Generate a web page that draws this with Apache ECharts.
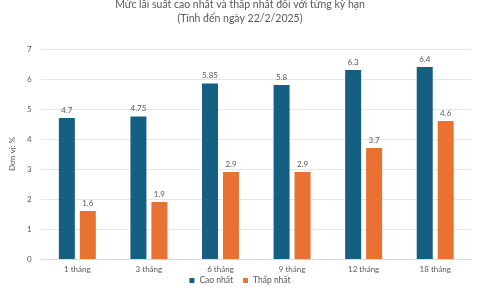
<!DOCTYPE html>
<html><head><meta charset="utf-8">
<script src="https://cdn.jsdelivr.net/npm/echarts@6/dist/echarts.min.js"></script>
<style>html,body{margin:0;padding:0;background:#fff}#c{width:480px;height:288px}</style>
</head><body><div id="c"></div>
<script>
const categories = ['1 tháng','3 tháng','6 tháng','9 tháng','12 tháng','18 tháng'];
const caoNhat = [4.7, 4.75, 5.85, 5.8, 6.3, 6.4];
const thapNhat = [1.6, 1.9, 2.9, 2.9, 3.7, 4.6];
const seriesNames = ['Cao nhất','Thấp nhất'];
const yTicks = [0,1,2,3,4,5,6,7];

const chart = echarts.init(document.getElementById('c'));
const font = 'Lato, "Open Sans", sans-serif';
chart.setOption({
  animation:false,
  backgroundColor:'#fff',
  title:{
    text:'Mức lãi suất cao nhất và thấp nhất đối với từng kỳ hạn\n(Tính đến ngày 22/2/2025)',
    left:'center', top:-2, padding:0,
    textStyle:{fontSize:10.5, fontWeight:'normal', color:'#595959', fontFamily:font, lineHeight:14}
  },
  legend:{
    data:seriesNames, bottom:-2, left:'center', itemWidth:5, itemHeight:5, itemGap:10,
    icon:'rect',
    textStyle:{fontSize:8.5, color:'#595959', fontFamily:font}
  },
  grid:{left:34, right:9, top:49, bottom:29, containLabel:false},
  xAxis:{
    type:'category', data:categories,
    axisLine:{lineStyle:{color:'#d9d9d9'}}, axisTick:{show:false},
    axisLabel:{fontSize:8, color:'#595959', fontFamily:font, margin:6}
  },
  yAxis:{
    type:'value', min:yTicks[0], max:yTicks[yTicks.length-1], interval:1,
    name:'Đơn vị: %', nameLocation:'middle', nameGap:17,
    nameTextStyle:{fontSize:8, color:'#595959', fontFamily:font},
    axisLine:{show:false}, axisTick:{show:false},
    axisLabel:{fontSize:8, color:'#595959', fontFamily:font, margin:10},
    splitLine:{lineStyle:{color:'#e6e6e6'}}
  },
  series:[
    {name:seriesNames[0], type:'bar', data:caoNhat, barWidth:16, barGap:'31%',
     itemStyle:{color:'#156082'},
     label:{show:true, position:'top', fontSize:8, color:'#595959', fontFamily:font, distance:4}},
    {name:seriesNames[1], type:'bar', data:thapNhat, barWidth:16,
     itemStyle:{color:'#E97132'},
     label:{show:true, position:'top', fontSize:8, color:'#595959', fontFamily:font, distance:4}}
  ]
});
</script></body></html>
